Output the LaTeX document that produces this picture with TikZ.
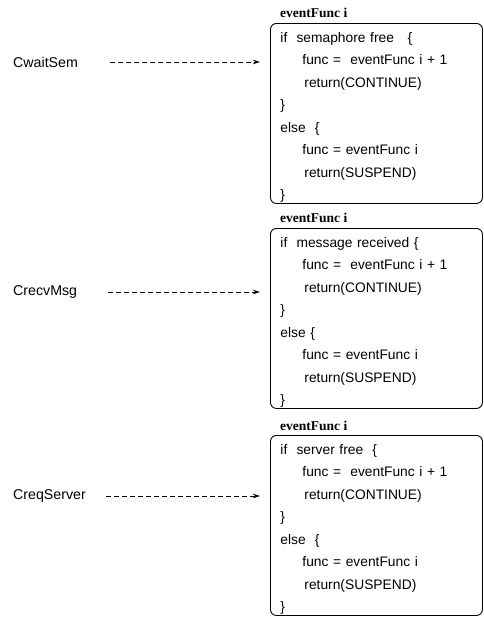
\documentclass[tikz,border=0pt]{standalone}
\usepackage{fontspec}
\setmainfont{Liberation Sans}
\newfontfamily\titlefamily{Liberation Serif}
\usetikzlibrary{arrows.meta,positioning}
\tikzset
{
    codebox/.style  = {draw=black, line width=0.9pt, rounded corners=6pt, align=left, anchor=north west, text width=192pt, inner xsep=10pt, inner ysep=0pt, font=\fontsize{13.8}{22.5}\selectfont},
    boxtitle/.style = {inner sep=0pt, font=\titlefamily\bfseries\fontsize{13.5}{16}\selectfont},
    caller/.style   = {anchor=west, inner sep=0pt, font=\fontsize{14.2}{16}\selectfont},
    callarrow/.style = {line width=0.9pt, dash pattern=on 5pt off 3pt, -{Stealth[length=7pt,width=4.5pt]}, shorten >=10pt}
}
\newcommand{\codetop}{\rule{0pt}{19pt}}
\newcommand{\codebot}{\rule[-3.5pt]{0pt}{3.5pt}}
\newcommand{\codetab}{\hspace*{22pt}}
\newcommand{\codetabb}{\hspace*{24pt}}

\begin{document}
\begin{tikzpicture}[x=1pt, y=-1pt]
\useasboundingbox (0,0) rectangle (483,621);

\node (semBox)[codebox]   at (270,23)  {\codetop if\ \ semaphore free\ \ \ \{\\
\codetab func =\ \ eventFunc i + 1\\
\codetabb return(CONTINUE)\\
\}\\
else\ \ \{\\
\codetab func = eventFunc i\\
\codetabb return(SUSPEND)\\
\}\codebot};
\node (msgBox)[codebox]   at (270,228) {\codetop if\ \ message received\ \{\\
\codetab func =\ \ eventFunc i + 1\\
\codetabb return(CONTINUE)\\
\}\\
else \{\\
\codetab func = eventFunc i\\
\codetabb return(SUSPEND)\\
\}\codebot};
\node (srvBox)[codebox]   at (270,435) {\codetop if\ \ server free \ \{\\
\codetab func =\ \ eventFunc i + 1\\
\codetabb return(CONTINUE)\\
\}\\
else \ \{\\
\codetab func = eventFunc i\\
\codetabb return(SUSPEND)\\
\}\codebot};

\node (semTitle)[boxtitle, above right=5pt and 10pt of semBox.north west] {eventFunc i};
\node (msgTitle)[boxtitle, above right=5pt and 10pt of msgBox.north west] {eventFunc i};
\node (srvTitle)[boxtitle, above right=4pt and 10pt of srvBox.north west] {eventFunc i};

\node (waitSem)[caller]   at (13,62)   {CwaitSem};
\node (recvMsg)[caller]   at (13,292)  {CrecvMsg};
\node (reqServer)[caller] at (13,496)  {CreqServer};

\draw[callarrow] ([xshift=32pt]waitSem.east)   -- (waitSem -| semBox.west);
\draw[callarrow] ([xshift=31pt]recvMsg.east)   -- (recvMsg -| msgBox.west);
\draw[callarrow] ([xshift=20pt]reqServer.east) -- (reqServer -| srvBox.west);

\end{tikzpicture}
\end{document}
